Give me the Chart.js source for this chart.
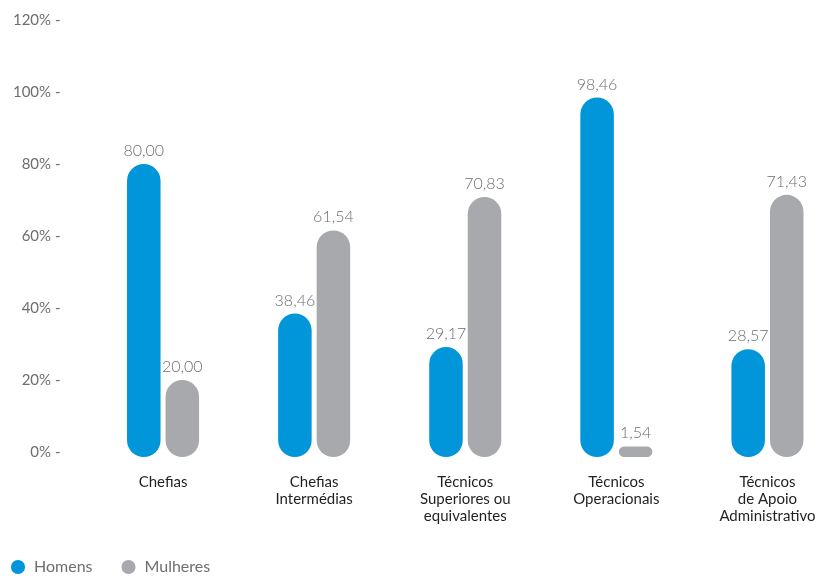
<!DOCTYPE html>
<html lang="pt">
<head>
    <meta charset="UTF-8">
    <title>Homens e Mulheres por categoria</title>
    <style>
        html, body { margin: 0; padding: 0; background: #fff; overflow: hidden; }
        #wrap { position: relative; width: 843px; height: 577px; }
    </style>
</head>
<body>
    <div id="wrap">
        <canvas id="myChart"></canvas>
    </div>

    <script src="https://cdn.jsdelivr.net/npm/chart.js"></script>

    <script>
        // categorias (rótulos em várias linhas)
        const categorias = [
            ['Chefias'],
            ['Chefias', 'Intermédias'],
            ['Técnicos', 'Superiores ou', 'equivalentes'],
            ['Técnicos', 'Operacionais'],
            ['Técnicos', 'de Apoio', 'Administrativo']
        ];
        const homens = [80.00, 38.46, 29.17, 98.46, 28.57];
        const mulheres = [20.00, 61.54, 70.83, 1.54, 71.43];
        const yTicks = [0, 20, 40, 60, 80, 100, 120];

        const azul = '#0096D9';
        const cinza = '#A7A9AC';

        // escreve o valor por cima de cada barra
        const valueLabels = {
            id: 'valueLabels',
            afterDatasetsDraw(chart) {
                const c = chart.ctx;
                c.save();
                c.font = '300 16px Lato';
                c.fillStyle = '#6d6e71';
                c.textAlign = 'center';
                c.textBaseline = 'alphabetic';
                chart.data.datasets.forEach((ds, i) => {
                    chart.getDatasetMeta(i).data.forEach((bar, j) => {
                        const txt = ds.data[j].toFixed(2).replace('.', ',');
                        c.fillText(txt, bar.x, bar.y - 8);
                    });
                });
                c.restore();
            }
        };

        const ctx = document.getElementById('myChart');

        new Chart(ctx, {
            type: 'bar',
            data: {
                labels: categorias,
                datasets: [{
                    label: 'Homens',
                    data: homens,
                    backgroundColor: azul,
                    borderRadius: 17,
                    borderSkipped: false,
                    base: -1.4,
                    clip: false
                },
                {
                    label: 'Mulheres',
                    data: mulheres,
                    backgroundColor: cinza,
                    borderRadius: 17,
                    borderSkipped: false,
                    base: -1.4,
                    clip: false
                }]
            },
            options: {
                responsive: true,
                maintainAspectRatio: false,
                animation: false,
                categoryPercentage: 0.51,
                barPercentage: 0.87,
                layout: { padding: { left: -18, top: 0, right: 0, bottom: -8 } },
                plugins: {
                    tooltip: { enabled: false },
                    legend: {
                        position: 'bottom',
                        align: 'start',
                        labels: {
                            usePointStyle: true,
                            pointStyle: 'circle',
                            boxWidth: 16,
                            boxHeight: 10,
                            padding: 28,
                            color: '#6d6e71',
                            font: { family: 'Lato', size: 16 }
                        }
                    }
                },
                scales: {
                    x: {
                        afterFit: axis => { axis.height = 79; },
                        grid: { display: false, drawTicks: false },
                        border: { display: false },
                        ticks: {
                            color: '#231f20',
                            padding: 22,
                            maxRotation: 0,
                            autoSkip: false,
                            font: { family: 'Lato', size: 15, lineHeight: 1.13 }
                        }
                    },
                    y: {
                        min: 0,
                        max: 120,
                        afterBuildTicks: axis => {
                            axis.ticks = yTicks.map(v => ({ value: v }));
                        },
                        afterFit: axis => {
                            axis.width = 105.5;
                            axis.paddingTop = 20;
                            axis.paddingBottom = 0;
                        },
                        grid: { display: false, drawTicks: false },
                        border: { display: false },
                        ticks: {
                            color: '#6d6e71',
                            padding: 27,
                            font: { family: 'Lato', size: 15 },
                            callback: v => v + '% -'
                        }
                    }
                }
            },
            plugins: [valueLabels]
        });
    </script>
</body>
</html>
